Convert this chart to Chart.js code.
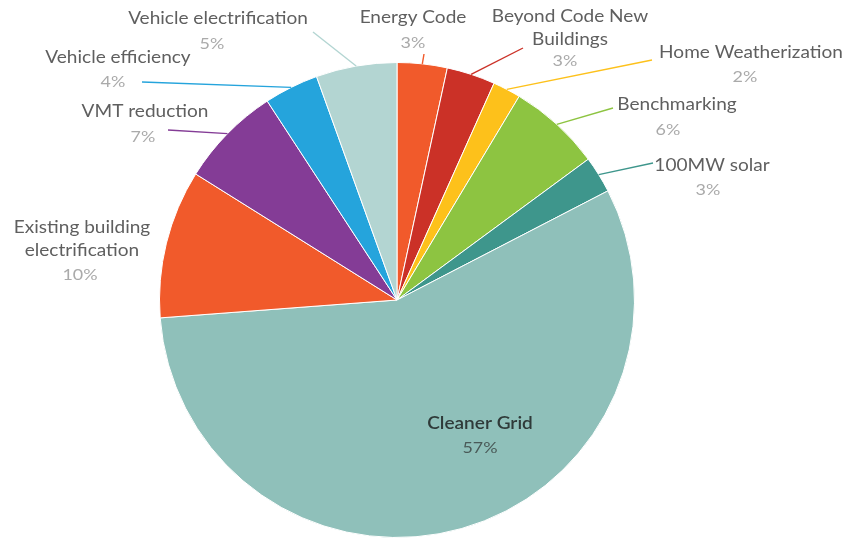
<!DOCTYPE html>
<html>
<head>
<meta charset="utf-8">
<script src="https://cdn.jsdelivr.net/npm/chart.js@4.4.1/dist/chart.umd.min.js"></script>
<style>
  html, body { margin: 0; padding: 0; background: #fff; }
  #wrap { width: 847px; height: 540px; }
</style>
</head>
<body>
<div id="wrap"><canvas id="pieChart"></canvas></div>
<script>
// data (share of total, clockwise from 12 o'clock)
const categories = [
  "Energy Code", "Beyond Code New Buildings", "Home Weatherization", "Benchmarking",
  "100MW solar", "Cleaner Grid", "Existing building electrification",
  "VMT reduction", "Vehicle efficiency", "Vehicle electrification"
];
const shares = [3.4, 3.3, 1.9, 6.3, 2.5, 56.4, 10.1, 6.9, 3.7, 5.5];
// percentage text as printed on the chart
const shareLabels = ["3%", "3%", "2%", "6%", "3%", "57%", "10%", "7%", "4%", "5%"];
const sliceColors = [
  "#F15A2B", "#CB3127", "#FDC11B", "#8DC441", "#3E968C",
  "#8FC0BA", "#F15A2B", "#843C96", "#25A4DC", "#B3D5D2"
];

// where each label sits (text lines, and the end of its leader line)
const labelLayout = [
  { x: 413, y: 18, lines: ["Energy Code"], pct: [413, 43], end: [424, 54] },
  { x: 570, y: 17, lines: ["Beyond Code New", "Buildings"], pct: [565, 61], end: [523, 48] },
  { x: 751, y: 53, lines: ["Home Weatherization"], pct: [745, 77], end: [652, 60] },
  { x: 677, y: 105, lines: ["Benchmarking"], pct: [668, 130], end: [613, 108] },
  { x: 712, y: 166, lines: ["100MW solar"], pct: [708, 190], end: [653, 163] },
  { x: 480, y: 424, lines: ["Cleaner Grid"], pct: [480, 448], end: null, inside: true },
  { x: 82, y: 228, lines: ["Existing building", "electrification"], pct: [80, 275], end: null },
  { x: 145, y: 112, lines: ["VMT reduction"], pct: [143, 137], end: [168, 130] },
  { x: 118, y: 58, lines: ["Vehicle efficiency"], pct: [113, 82], end: [142, 82] },
  { x: 218, y: 19, lines: ["Vehicle electrification"], pct: [212, 44], end: [313, 32] }
];

// vẽ chữ hơi kéo giãn ngang giống hình gốc
function drawText(ctx, t, x, y) {
  ctx.save();
  ctx.translate(x, y);
  ctx.scale(1.12, 1);
  ctx.fillText(t, 0, 0);
  ctx.restore();
}

// plugin tự vẽ nhãn + đường dẫn
const pieLabels = {
  id: "pieLabels",
  afterDatasetsDraw(chart) {
    const ctx = chart.ctx;
    const arcs = chart.getDatasetMeta(0).data;
    ctx.save();
    ctx.textAlign = "center";
    ctx.textBaseline = "middle";
    arcs.forEach((arc, i) => {
      const lay = labelLayout[i];
      const mid = (arc.startAngle + arc.endAngle) / 2;
      if (lay.end) {
        const ax = arc.x + Math.cos(mid) * arc.outerRadius;
        const ay = arc.y + Math.sin(mid) * arc.outerRadius;
        ctx.strokeStyle = sliceColors[i];
        ctx.lineWidth = 1.4;
        ctx.beginPath();
        ctx.moveTo(ax, ay);
        ctx.lineTo(lay.end[0], lay.end[1]);
        ctx.stroke();
      }
      ctx.font = lay.inside ? "600 17px Lato" : "17px Lato";
      ctx.fillStyle = lay.inside ? "#2f3a39" : "#5f5f5f";
      lay.lines.forEach((t, k) => drawText(ctx, t, lay.x, lay.y + k * 23));
      ctx.font = "16px Lato";
      ctx.fillStyle = lay.inside ? "#4a5a58" : "#aaaaaa";
      drawText(ctx, shareLabels[i], lay.pct[0], lay.pct[1]);
    });
    ctx.restore();
  }
};

const ctx = document.getElementById("pieChart").getContext("2d");
new Chart(ctx, {
  type: "pie",
  data: {
    labels: categories,
    datasets: [{
      data: shares,
      backgroundColor: sliceColors,
      borderColor: "#ffffff",
      borderWidth: 1,
      hoverOffset: 0,
      offset: 0
    }]
  },
  options: {
    responsive: true,
    maintainAspectRatio: false,
    animation: false,
    layout: { padding: { top: 62, bottom: 2, left: 159, right: 212 } },
    plugins: {
      legend: { display: false },
      tooltip: { enabled: false }
    }
  },
  plugins: [pieLabels]
});
</script>
</body>
</html>
